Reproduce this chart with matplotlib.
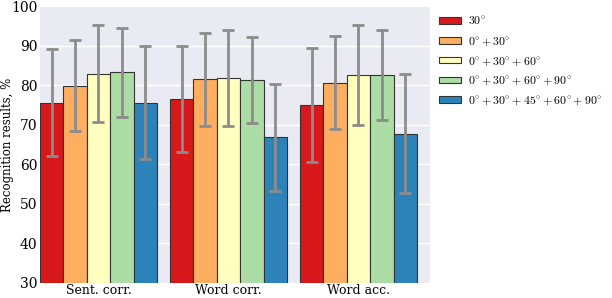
import numpy as np
import matplotlib
matplotlib.use('Agg')
import matplotlib.pyplot as plt

plt.rcParams['font.family'] = ['DejaVu Serif']
plt.rcParams['mathtext.fontset'] = 'cm'

groups = ['Sent. corr.', 'Word corr.', 'Word acc.']
labels = [r'$30^{\circ}$',
          r'$0^{\circ}+30^{\circ}$',
          r'$0^{\circ}+30^{\circ}+60^{\circ}$',
          r'$0^{\circ}+30^{\circ}+60^{\circ}+90^{\circ}$',
          r'$0^{\circ}+30^{\circ}+45^{\circ}+60^{\circ}+90^{\circ}$']
colors = ['#d7191c', '#fdae61', '#ffffbf', '#abdda4', '#2b83ba']

# mean values per config, one entry per group
means = [
    [75.6, 76.6, 75.0],
    [79.9, 81.5, 80.6],
    [82.9, 81.8, 82.6],
    [83.2, 81.3, 82.6],
    [75.6, 66.8, 67.7],
]
stds = [
    [13.6, 13.4, 14.3],
    [11.5, 11.7, 11.8],
    [12.2, 12.1, 12.6],
    [11.2, 10.8, 11.3],
    [14.3, 13.5, 15.0],
]

fig = plt.figure(figsize=(6.12, 2.98), dpi=100)
ax = fig.add_axes([40 / 612, 15 / 298, 390 / 612, 277 / 298])
ax.set_facecolor('#eaeaf2')
ax.grid(axis='y', color='white', linewidth=1.0)
ax.set_axisbelow(True)
for s in ax.spines.values():
    s.set_visible(False)

x = np.arange(len(groups))
w = 0.18
for i in range(len(labels)):
    ax.bar(x + (i - 2) * w, means[i], w, yerr=stds[i], color=colors[i],
           edgecolor='#333333', linewidth=0.8, label=labels[i],
           error_kw=dict(ecolor='#8c8c8c', elinewidth=2, capsize=4, capthick=2))

ax.set_xlim(-0.45, 2.55)
ax.set_ylim(30, 100)
ax.set_xticks(x)
ax.set_xticklabels(groups, fontsize=9)
ax.set_yticks(range(30, 101, 10))
ax.tick_params(axis='y', labelsize=10, length=0, pad=2)
ax.tick_params(axis='x', length=0, pad=1)
ax.set_ylabel('Recognition results, %', fontsize=8.5, va='center')
ax.yaxis.set_label_coords(-0.083, 0.5)

ax.legend(loc='upper left', bbox_to_anchor=(1.012, 0.985), frameon=False,
          fontsize=8.5, handlelength=1.8, handleheight=0.5, labelspacing=0.55,
          handletextpad=0.6, borderaxespad=0)

fig.savefig('out.png', dpi=100)
